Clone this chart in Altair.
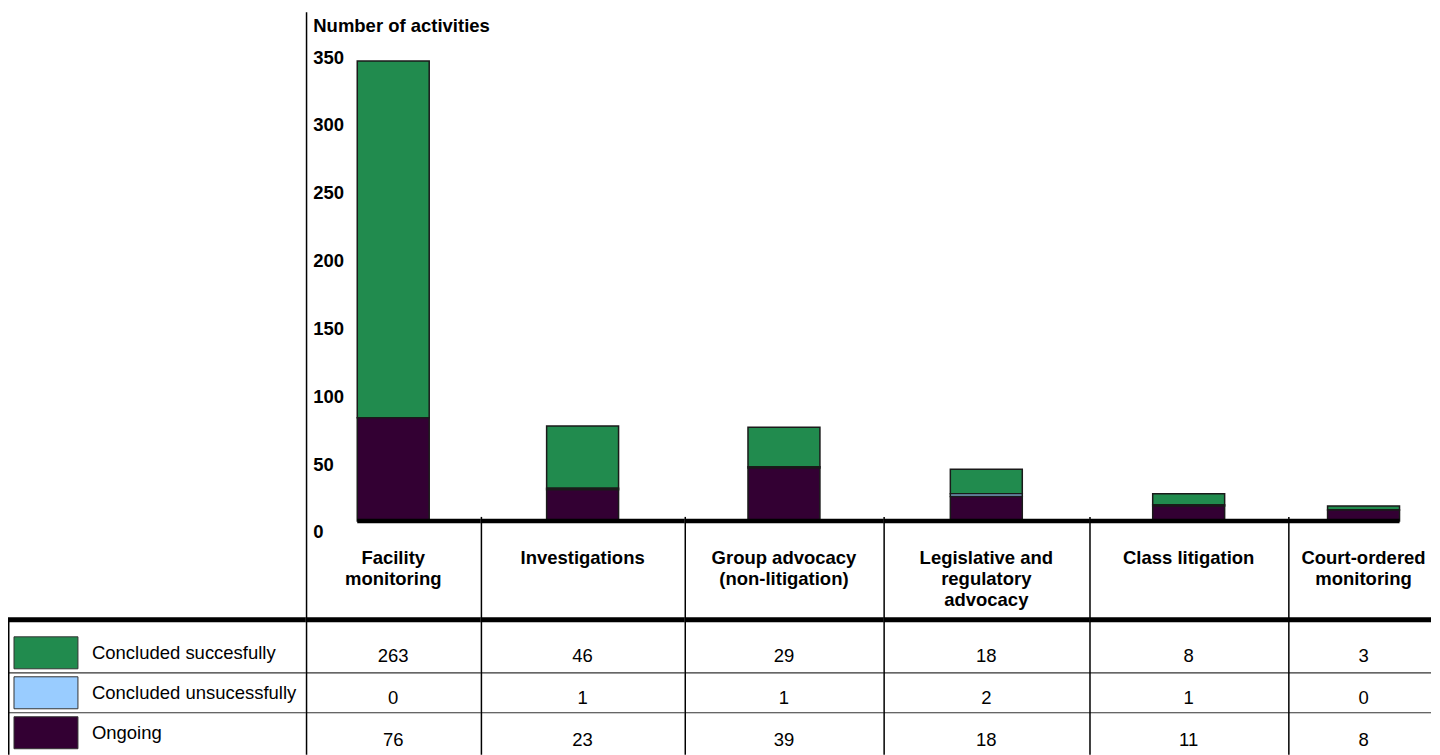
import altair as alt
import pandas as pd

CATS = [
    "Facility\nmonitoring",
    "Investigations",
    "Group advocacy\n(non-litigation)",
    "Legislative and\nregulatory\nadvocacy",
    "Class litigation",
    "Court-ordered\nmonitoring",
]
SERIES = ["Concluded succesfully", "Concluded unsucessfully", "Ongoing"]
SUCC = [263, 46, 29, 18, 8, 3]
UNSUCC = [0, 1, 1, 2, 1, 0]
ONGOING = [76, 23, 39, 18, 11, 8]
STACK_ORDER = [2, 1, 0]
COLORS = ["#218B4E", "#99CCFF", "#330033"]
Y_TICKS = [0, 50, 100, 150, 200, 250, 300, 350]
Y_TITLE = "Number of activities"

FONT = "Liberation Sans"
FS = 18.5
LEFT_W = 298
COL_W = [175, 204, 199, 206, 199, 143]
LAST_RANGE = 151
H_PLOT = 509
H_HDR = 99
H_TAB = 135
BAR_W = 72

rows = []
for i, c in enumerate(CATS):
    for s, vals, o in zip(SERIES, [SUCC, UNSUCC, ONGOING], STACK_ORDER):
        rows.append({"cat": c, "series": s, "value": vals[i], "ord": o})
df = pd.DataFrame(rows)
series_df = pd.DataFrame({"series": SERIES})
inner_series_df = pd.DataFrame({"series": SERIES[1:]})
one = pd.DataFrame({"a": [0]})

colorscale = alt.Scale(domain=SERIES, range=COLORS)
linescale = alt.Scale(domain=SERIES, range=[13, 133], paddingInner=0, paddingOuter=0)
textscale = alt.Scale(domain=SERIES, range=[15, 141], paddingInner=0, paddingOuter=0)
yscale = alt.Scale(domain=[0, 375], nice=False)

y_axis = alt.Axis(
    values=Y_TICKS,
    title=Y_TITLE,
    titleAngle=0,
    titleAlign="left",
    titleBaseline="middle",
    titleX=7,
    titleY=13,
    titleFont=FONT,
    titleFontSize=FS,
    titleFontWeight="bold",
    titleColor="black",
    labelAlign="left",
    labelBaseline="middle",
    labelPadding=-7,
    labelOffset=11,
    labelFlush=False,
    labelFont=FONT,
    labelFontSize=FS,
    labelFontWeight="bold",
    labelColor="black",
    ticks=False,
    tickSize=0,
    grid=False,
    domain=False,
)


def vline(h, top=0):
    # thin vertical border drawn as a filled rect at the cell's left edge
    return alt.Chart(one).mark_rect(color="black").encode(
        x=alt.value(0), x2=alt.value(1.5), y=alt.value(top), y2=alt.value(h)
    )


def spacer(h):
    return alt.Chart(one).mark_rect(opacity=0).encode(
        x=alt.value(0), x2=alt.value(1), y=alt.value(0), y2=alt.value(1)
    ).properties(width=LEFT_W, height=h)


def hrules(width, start=0):
    thin = alt.Chart(inner_series_df).mark_rule(color="#333333", strokeWidth=1.2).encode(
        y=alt.Y("series:N", scale=linescale, axis=None, bandPosition=0),
        x=alt.value(start),
        x2=alt.value(width),
    )
    thick = alt.Chart(one).mark_rect(color="black").encode(
        y=alt.value(-2.5), y2=alt.value(2.5), x=alt.value(0), x2=alt.value(width)
    )
    return alt.layer(thin, thick)


n = len(CATS)
bar_cells, hdr_cells, val_cells = [], [], []
for i, (cat, w) in enumerate(zip(CATS, COL_W)):
    rng = [0, LAST_RANGE] if i == n - 1 else [0, w]
    xs = alt.Scale(domain=[cat], range=rng, paddingInner=0, paddingOuter=0)
    sub = df[df["cat"] == cat]
    centre = rng[1] / 2

    bars = alt.Chart(sub).mark_bar(
        width=BAR_W, stroke="#1a1a1a", strokeWidth=1.5
    ).encode(
        x=alt.X("cat:N", scale=xs, axis=None),
        y=alt.Y("value:Q", stack="zero", scale=yscale,
                axis=y_axis if i == 0 else None),
        color=alt.Color("series:N", scale=colorscale, legend=None),
        order=alt.Order("ord:Q"),
    )
    bx1 = centre - BAR_W / 2 if i == 0 else 0
    bx2 = centre + BAR_W / 2 if i == n - 1 else w
    base = alt.Chart(one).mark_rule(color="black", strokeWidth=4.5).encode(
        y=alt.datum(0), x=alt.value(bx1), x2=alt.value(bx2)
    )
    layers = [bars, base]
    if i == 0:
        layers.append(vline(H_PLOT))
    bar_cells.append(alt.layer(*layers).properties(width=w, height=H_PLOT))

    hdr = alt.Chart(pd.DataFrame({"cat": [cat]})).mark_text(
        font=FONT, fontSize=FS, fontWeight="bold", lineBreak="\n", baseline="top",
        align="center", lineHeight=21, color="black",
    ).encode(
        x=alt.X("cat:N", scale=xs, axis=None),
        y=alt.value(28),
        text="cat:N",
    )
    hdr_cells.append(
        alt.layer(hdr, vline(H_HDR, top=-4 if i > 0 else 0)).properties(width=w, height=H_HDR)
    )

    vt = alt.Chart(sub).mark_text(
        font=FONT, fontSize=FS, baseline="middle", align="center", color="black"
    ).encode(
        x=alt.X("cat:N", scale=xs, axis=None),
        y=alt.Y("series:N", scale=textscale, axis=None),
        text="value:Q",
    )
    val_cells.append(
        alt.layer(vt, hrules(w), vline(H_TAB))
        .resolve_scale(y="independent")
        .properties(width=w, height=H_TAB)
    )

swatch = alt.Chart(series_df).mark_bar(
    orient="horizontal", height=32, stroke="#333333", strokeWidth=1
).encode(
    y=alt.Y("series:N", scale=linescale, axis=None),
    x=alt.value(6),
    x2=alt.value(70),
    color=alt.Color("series:N", scale=colorscale, legend=None),
)
leg_text = alt.Chart(series_df).mark_text(
    font=FONT, fontSize=FS, baseline="middle", align="left", color="black"
).encode(
    y=alt.Y("series:N", scale=linescale, axis=None),
    x=alt.value(84),
    text="series:N",
)
legend = alt.layer(swatch, leg_text, hrules(LEFT_W, start=1), vline(H_TAB)).properties(
    width=LEFT_W, height=H_TAB
)

cells = [spacer(H_PLOT)] + bar_cells + [spacer(H_HDR)] + hdr_cells + [legend] + val_cells

chart = alt.concat(*cells, columns=7, spacing=0, bounds="flush").properties(
    padding={"top": 4, "left": 0, "right": 0, "bottom": 0}
).configure(font=FONT, view=alt.ViewConfig(stroke=None))

chart.save("out.html", embed_options={"renderer": "svg", "actions": False})
